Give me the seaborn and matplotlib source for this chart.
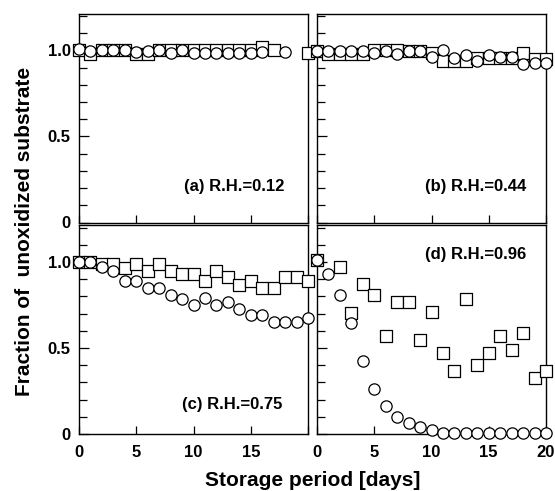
import numpy as np
import pandas as pd
import matplotlib
matplotlib.use("Agg")
import matplotlib.pyplot as plt
import seaborn as sns
from matplotlib.ticker import MultipleLocator

sns.set_theme(style="ticks")
plt.rcParams['font.family'] = ['Liberation Sans', 'DejaVu Sans']

# ---- data ----
a_circle_days = [0, 1, 2, 3, 4, 5, 6, 7, 8, 9, 10, 11, 12, 13, 14, 15, 16, 18]
a_circle = [1.01, 0.995, 1.0, 1.0, 1.0, 0.99, 0.995, 1.0, 0.985, 1.0, 0.985,
            0.985, 0.985, 0.985, 0.985, 0.985, 0.99, 0.99]
a_square_days = [0, 1, 2, 3, 4, 5, 6, 7, 8, 9, 10, 11, 12, 13, 14, 15, 16, 17, 20]
a_square = [1.0, 0.98, 1.0, 1.0, 1.0, 0.98, 0.98, 1.0, 1.0, 1.0, 1.0, 1.0,
            1.0, 1.0, 1.0, 1.0, 1.02, 1.0, 0.985]

b_days = list(range(21))
b_circle = [0.995, 0.995, 0.995, 0.995, 0.995, 0.985, 0.995, 0.98, 0.995, 0.995,
            0.965, 1.0, 0.955, 0.975, 0.94, 0.975, 0.96, 0.96, 0.92, 0.925, 0.925]
b_square = [0.995, 0.98, 0.98, 0.98, 0.98, 1.0, 1.0, 1.0, 0.995, 0.995, 0.985,
            0.94, 0.94, 0.94, 0.955, 0.955, 0.955, 0.955, 0.985, 0.95, 0.95]

c_days = list(range(21))
c_circle = [1.0, 1.0, 0.97, 0.945, 0.887, 0.887, 0.848, 0.848, 0.81, 0.785, 0.75,
            0.79, 0.75, 0.766, 0.727, 0.69, 0.69, 0.65, 0.65, 0.65, 0.672]
c_square = [1.0, 1.0, 0.99, 0.99, 0.965, 0.99, 0.945, 0.99, 0.95, 0.93, 0.93,
            0.89, 0.945, 0.91, 0.867, 0.887, 0.848, 0.848, 0.91, 0.91, 0.89]

d_circle_days = list(range(21))
d_circle = [1.01, 0.93, 0.81, 0.643, 0.427, 0.261, 0.164, 0.10, 0.066, 0.043, 0.023,
            0.008, 0.008, 0.008, 0.008, 0.008, 0.008, 0.008, 0.008, 0.008, 0.008]
d_square_days = [0, 2, 3, 4, 5, 6, 7, 8, 9, 10, 11, 12, 13, 14, 15, 16, 17, 18, 19, 20]
d_square = [1.01, 0.97, 0.706, 0.87, 0.807, 0.569, 0.768, 0.768, 0.546, 0.71, 0.468,
            0.365, 0.787, 0.404, 0.468, 0.569, 0.487, 0.585, 0.326, 0.365]

panel_labels = ["(a) R.H.=0.12", "(b) R.H.=0.44", "(c) R.H.=0.75", "(d) R.H.=0.96"]
x_ticks = [0, 5, 10, 15, 20]
y_ticks = [0, 0.5, 1.0]
y_tick_labels = ["0", "0.5", "1.0"]

panels = [
    (a_circle_days, a_circle, a_square_days, a_square),
    (b_days, b_circle, b_days, b_square),
    (c_days, c_circle, c_days, c_square),
    (d_circle_days, d_circle, d_square_days, d_square),
]

# ---- figure ----
W, H = 555, 491
fig = plt.figure(figsize=(W / 100, H / 100), dpi=100)

def px_axes(x0, x1, ytop, ybot):
    return fig.add_axes([x0 / W, 1 - ybot / H, (x1 - x0) / W, (ybot - ytop) / H])

axes = [
    px_axes(79, 308, 13.5, 222.5),
    px_axes(317, 546, 13.5, 222.5),
    px_axes(79, 308, 225, 434),
    px_axes(317, 546, 225, 434),
]

text_pos = [(0.895, 0.17), (0.913, 0.17), (0.89, 0.14), (0.913, 0.86)]

for i, (ax, (cx, cy, sx, sy)) in enumerate(zip(axes, panels)):
    sns.scatterplot(x=sx, y=sy, ax=ax, marker='s', s=64, color='white',
                    edgecolor='black', linewidth=0.9, zorder=3)
    sns.scatterplot(x=cx, y=cy, ax=ax, marker='o', s=66, color='white',
                    edgecolor='black', linewidth=0.9, zorder=4)
    for coll in ax.collections:
        coll.set_clip_on(False)
    ax.set_xlim(0, 20)
    ax.set_ylim(0, 1.215)
    ax.set_xticks(x_ticks)
    ax.set_yticks(y_ticks)
    ax.yaxis.set_minor_locator(MultipleLocator(0.1))
    ax.tick_params(axis='both', which='both', direction='in', top=False, right=False,
                   colors='black', labelsize=12)
    ax.tick_params(axis='y', which='major', length=7, width=0.9, pad=6)
    ax.tick_params(axis='y', which='minor', length=6, width=0.9)
    ax.tick_params(axis='x', which='major', length=6, width=0.9, pad=8)
    for sp in ax.spines.values():
        sp.set_visible(True)
        sp.set_color('black')
        sp.set_linewidth(1.0)
    if i in (0, 2):
        ax.set_yticklabels(y_tick_labels, fontweight='bold')
    else:
        ax.set_yticklabels([])
    if i == 2:
        ax.set_xticklabels(["0", "5", "10", "15", ""], fontweight='bold')
    elif i == 3:
        ax.set_xticklabels([str(t) for t in x_ticks], fontweight='bold')
    else:
        ax.set_xticklabels([])
    ax.set_xlabel("")
    ax.set_ylabel("")
    tx, ty = text_pos[i]
    ax.text(tx, ty, panel_labels[i], transform=ax.transAxes, ha='right', va='center',
            fontsize=12, fontweight='bold', color='black')

fig.text(25 / W, 1 - 231 / H, "Fraction of  unoxidized substrate", rotation=90,
         ha='center', va='center', fontsize=15, fontweight='bold', color='black')
fig.text(313 / W, 1 - 480 / H, "Storage period [days]", ha='center', va='center',
         fontsize=15, fontweight='bold', color='black')

fig.savefig("out.png", dpi=100, facecolor='white')
